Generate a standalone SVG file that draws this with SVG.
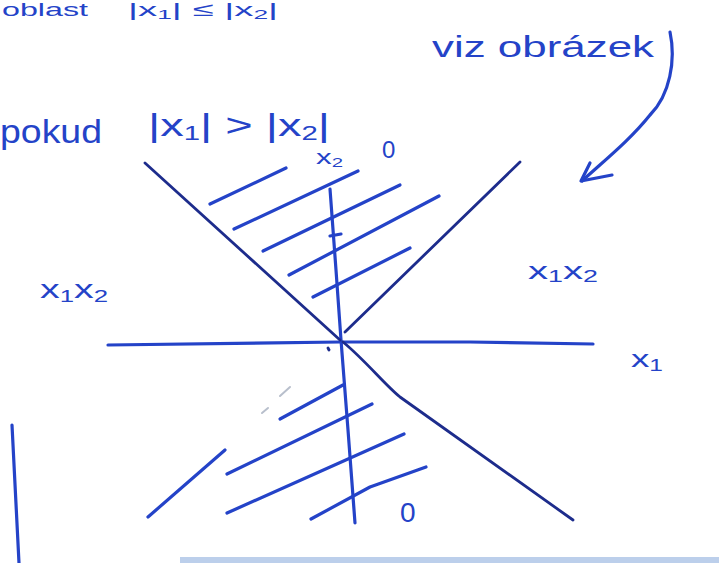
<svg xmlns="http://www.w3.org/2000/svg" width="719" height="563" viewBox="0 0 719 563">
<defs>
<style>
.ink{fill:none;stroke:#2443c8;stroke-width:3.2;stroke-linecap:round;stroke-linejoin:round}
.dark{fill:none;stroke:#1d2c8c;stroke-width:2.8;stroke-linecap:round;stroke-linejoin:round}
.faint{fill:none;stroke:#b8bfcc;stroke-width:2;stroke-linecap:round}
.t{font-family:"Liberation Sans","DejaVu Sans",sans-serif;fill:#2443c8}
</style>
</defs>
<rect width="719" height="563" fill="#ffffff"/>
<rect x="180" y="557" width="539" height="6" fill="#bccfeb"/>

<g id="top-text">
<text class="t" x="2" y="16" font-size="19" textLength="86" lengthAdjust="spacingAndGlyphs">oblast</text>
<text class="t" x="128" y="16" font-size="19" textLength="150" lengthAdjust="spacingAndGlyphs">|x<tspan font-size="13" dy="3">1</tspan><tspan dy="-3">| ≤ |x</tspan><tspan font-size="13" dy="3">2</tspan><tspan dy="-3">|</tspan></text>
</g>

<g id="note">
<text class="t" x="432" y="57" font-size="30" textLength="222" lengthAdjust="spacingAndGlyphs">viz obrázek</text>
</g>

<g id="condition">
<text class="t" x="0" y="143" font-size="34" textLength="102" lengthAdjust="spacingAndGlyphs">pokud</text>
<text class="t" x="148" y="136" font-size="32" textLength="182" lengthAdjust="spacingAndGlyphs">|x<tspan font-size="20" dy="4">1</tspan><tspan dy="-4">| &gt; |x</tspan><tspan font-size="20" dy="4">2</tspan><tspan dy="-4">|</tspan></text>
</g>

<g id="connectors">
<path class="ink" d="M670,32 C676,60 670,95 650,115 C630,140 605,160 582,181"/>
<path class="ink" d="M590,163 L581,181 L612,175"/>
</g>

<g id="axes">
<path class="ink" d="M108,345 L340,342 L470,342 L593,344"/>
<path class="ink" d="M330,189 L336,270 L341,340 L348,430 L355,523"/>
<path class="ink" d="M330,236 L341,234"/>
</g>

<g id="boundary">
<path class="dark" d="M145,163 L340,340"/>
<path class="dark" d="M343,342 C365,360 385,385 400,397 L573,520"/>
<path class="dark" d="M345,332 L520,162"/>
</g>

<g id="hatch-upper">
<path class="ink" d="M210,204 L286,168"/>
<path class="ink" d="M234,229 L358,171"/>
<path class="ink" d="M263,251 L400,185"/>
<path class="ink" d="M289,275 L439,196"/>
<path class="ink" d="M313,297 L410,248"/>
</g>

<g id="hatch-lower">
<path class="ink" d="M280,419 L343,385"/>
<path class="ink" d="M227,474 L372,404"/>
<path class="ink" d="M227,513 L404,434"/>
<path class="ink" d="M311,519 L370,487 L426,467"/>
<path class="ink" d="M148,517 L225,450"/>
<path class="faint" d="M262,413 L268,408 M280,396 L290,387"/>
<path class="dark" d="M328,348 L329,350"/>
</g>

<g id="frame">
<path class="ink" d="M12,425 L19,563"/>
</g>

<g id="labels">
<text class="t" x="316" y="164" font-size="20" textLength="27" lengthAdjust="spacingAndGlyphs">x<tspan font-size="13" dy="3">2</tspan></text>
<text class="t" x="382" y="158" font-size="24">0</text>
<text class="t" x="40" y="298" font-size="26" textLength="68" lengthAdjust="spacingAndGlyphs">x<tspan font-size="17" dy="4">1</tspan><tspan dy="-4">x</tspan><tspan font-size="17" dy="4">2</tspan></text>
<text class="t" x="528" y="279" font-size="24" textLength="70" lengthAdjust="spacingAndGlyphs">x<tspan font-size="16" dy="3">1</tspan><tspan dy="-3">x</tspan><tspan font-size="16" dy="3">2</tspan></text>
<text class="t" x="631" y="367" font-size="24" textLength="32" lengthAdjust="spacingAndGlyphs">x<tspan font-size="16" dy="4">1</tspan></text>
<text class="t" x="400" y="522" font-size="28">0</text>
</g>
</svg>
